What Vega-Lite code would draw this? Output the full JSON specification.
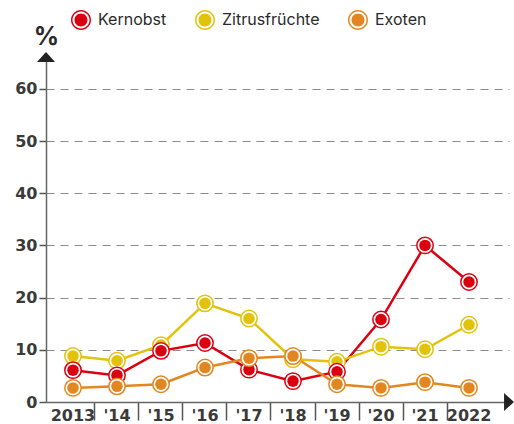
{
  "$schema": "https://vega.github.io/schema/vega-lite/v6.json",
  "autosize": "none",
  "width": 463,
  "height": 345,
  "padding": {"left": 46, "top": 57, "right": 5, "bottom": 22},
  "background": "white",
  "config": {
    "view": {"stroke": null},
    "font": "Inter"
  },
  "data": {
    "values": [
      {"year": "2013", "series": "Kernobst", "value": 6.1},
      {"year": "'14", "series": "Kernobst", "value": 5.1},
      {"year": "'15", "series": "Kernobst", "value": 9.8},
      {"year": "'16", "series": "Kernobst", "value": 11.3},
      {"year": "'17", "series": "Kernobst", "value": 6.2},
      {"year": "'18", "series": "Kernobst", "value": 4.0},
      {"year": "'19", "series": "Kernobst", "value": 5.8},
      {"year": "'20", "series": "Kernobst", "value": 15.8},
      {"year": "'21", "series": "Kernobst", "value": 30.0},
      {"year": "2022", "series": "Kernobst", "value": 23.0},
      {"year": "2013", "series": "Zitrusfrüchte", "value": 8.8},
      {"year": "'14", "series": "Zitrusfrüchte", "value": 7.9},
      {"year": "'15", "series": "Zitrusfrüchte", "value": 10.9},
      {"year": "'16", "series": "Zitrusfrüchte", "value": 18.9},
      {"year": "'17", "series": "Zitrusfrüchte", "value": 16.0},
      {"year": "'18", "series": "Zitrusfrüchte", "value": 8.2},
      {"year": "'19", "series": "Zitrusfrüchte", "value": 7.7},
      {"year": "'20", "series": "Zitrusfrüchte", "value": 10.6},
      {"year": "'21", "series": "Zitrusfrüchte", "value": 10.1},
      {"year": "2022", "series": "Zitrusfrüchte", "value": 14.8},
      {"year": "2013", "series": "Exoten", "value": 2.7},
      {"year": "'14", "series": "Exoten", "value": 3.0},
      {"year": "'15", "series": "Exoten", "value": 3.4},
      {"year": "'16", "series": "Exoten", "value": 6.6},
      {"year": "'17", "series": "Exoten", "value": 8.4},
      {"year": "'18", "series": "Exoten", "value": 8.8},
      {"year": "'19", "series": "Exoten", "value": 3.4},
      {"year": "'20", "series": "Exoten", "value": 2.7},
      {"year": "'21", "series": "Exoten", "value": 3.8},
      {"year": "2022", "series": "Exoten", "value": 2.7}
    ]
  },
  "encoding": {
    "x": {
      "field": "year",
      "type": "ordinal",
      "scale": {
        "type": "band",
        "domain": ["2013", "'14", "'15", "'16", "'17", "'18", "'19", "'20", "'21", "2022"],
        "paddingInner": 0,
        "paddingOuter": 0.261,
        "align": 0.217
      },
      "axis": {
        "title": null,
        "labelAngle": 0,
        "bandPosition": 1,
        "domainColor": "#666666",
        "domainWidth": 1.5,
        "tickSize": 18,
        "tickWidth": 1.5,
        "tickColor": {"condition": {"test": "datum.value === '2022'", "value": "transparent"}, "value": "#555555"},
        "labelFont": "DejaVu Sans",
        "labelFontWeight": "bold",
        "labelFontSize": 16,
        "labelColor": "#3a3a3a",
        "labelPadding": -13,
        "grid": false
      }
    },
    "y": {
      "field": "value",
      "type": "quantitative",
      "scale": {"domain": [0, 66.1], "nice": false, "zero": true},
      "axis": {
        "title": "%",
        "titleAngle": 0,
        "titleX": 0,
        "titleY": -21,
        "titleAlign": "center",
        "titleBaseline": "middle",
        "titleFont": "Inter",
        "titleFontSize": 25,
        "titleFontWeight": "bold",
        "titleColor": "#2a2a2a",
        "values": [0, 10, 20, 30, 40, 50, 60],
        "domainColor": "#666666",
        "domainWidth": 1.5,
        "tickSize": 7,
        "tickWidth": 1.5,
        "tickColor": "#555555",
        "labelFont": "DejaVu Sans",
        "labelFontWeight": "bold",
        "labelFontSize": 16,
        "labelColor": "#3a3a3a",
        "labelPadding": 2,
        "grid": true,
        "gridDash": [8, 6],
        "gridWidth": 1.2,
        "gridColor": {"condition": {"test": "datum.value === 0", "value": "transparent"}, "value": "#8c8c8c"}
      }
    }
  },
  "layer": [
    {
      "mark": {"type": "line", "strokeWidth": 2.5},
      "encoding": {
        "stroke": {
          "field": "series",
          "type": "nominal",
          "scale": {"domain": ["Zitrusfrüchte", "Kernobst", "Exoten"], "range": ["#e3c20a", "#db0010", "#e2871f"]},
          "legend": null
        }
      }
    },
    {
      "transform": [{"filter": "datum.series === 'Zitrusfrüchte'"}],
      "mark": {"type": "point", "shape": "circle", "filled": false, "fill": "white", "size": 269, "strokeWidth": 1.5, "opacity": 1},
      "encoding": {"stroke": {"field": "series", "type": "nominal", "legend": null}}
    },
    {
      "transform": [{"filter": "datum.series === 'Zitrusfrüchte'"}],
      "mark": {"type": "point", "shape": "circle", "filled": true, "size": 133, "opacity": 1},
      "encoding": {"color": {"field": "series", "type": "nominal"}}
    },
    {
      "transform": [{"filter": "datum.series === 'Kernobst'"}],
      "mark": {"type": "point", "shape": "circle", "filled": false, "fill": "white", "size": 269, "strokeWidth": 1.5, "opacity": 1},
      "encoding": {"stroke": {"field": "series", "type": "nominal", "legend": null}}
    },
    {
      "transform": [{"filter": "datum.series === 'Kernobst'"}],
      "mark": {"type": "point", "shape": "circle", "filled": true, "size": 133, "opacity": 1},
      "encoding": {"color": {"field": "series", "type": "nominal"}}
    },
    {
      "transform": [{"filter": "datum.series === 'Exoten'"}],
      "mark": {"type": "point", "shape": "circle", "filled": false, "fill": "white", "size": 269, "strokeWidth": 1.5, "opacity": 1},
      "encoding": {"stroke": {"field": "series", "type": "nominal", "legend": null}}
    },
    {
      "transform": [{"filter": "datum.series === 'Exoten'"}],
      "mark": {"type": "point", "shape": "circle", "filled": true, "size": 133, "opacity": 1},
      "encoding": {
        "color": {
          "field": "series",
          "type": "nominal",
          "scale": {"domain": ["Kernobst", "Zitrusfrüchte", "Exoten"], "range": ["#db0010", "#e3c20a", "#e2871f"]},
          "legend": {
            "title": null,
            "orient": "none",
            "direction": "horizontal",
            "legendX": 25,
            "legendY": -47,
            "symbolType": "M-1,0A1,1,0,1,0,1,0A1,1,0,1,0,-1,0Z M-0.85,0A0.85,0.85,0,1,1,0.85,0A0.85,0.85,0,1,1,-0.85,0Z M-0.65,0A0.65,0.65,0,1,0,0.65,0A0.65,0.65,0,1,0,-0.65,0Z",
            "symbolSize": 400,
            "symbolStrokeWidth": 0,
            "symbolOpacity": 1,
            "labelFont": "Inter",
            "labelFontSize": 16,
            "labelColor": "#2a2a2a",
            "labelOffset": 7,
            "columnPadding": 28
          }
        }
      }
    },
    {
      "data": {"values": [{"k": 1}]},
      "mark": {"type": "point", "shape": "M-1,0.55L1,0.55L0,-0.55Z", "filled": true, "color": "#222222", "size": 324, "opacity": 1, "strokeWidth": 0},
      "encoding": {"x": {"value": 0}, "y": {"value": 0}}
    },
    {
      "data": {"values": [{"k": 1}]},
      "mark": {"type": "point", "shape": "M-0.55,-1L-0.55,1L0.55,0Z", "filled": true, "color": "#222222", "size": 324, "opacity": 1, "strokeWidth": 0},
      "encoding": {"x": {"value": "width"}, "y": {"value": "height"}}
    }
  ]
}
